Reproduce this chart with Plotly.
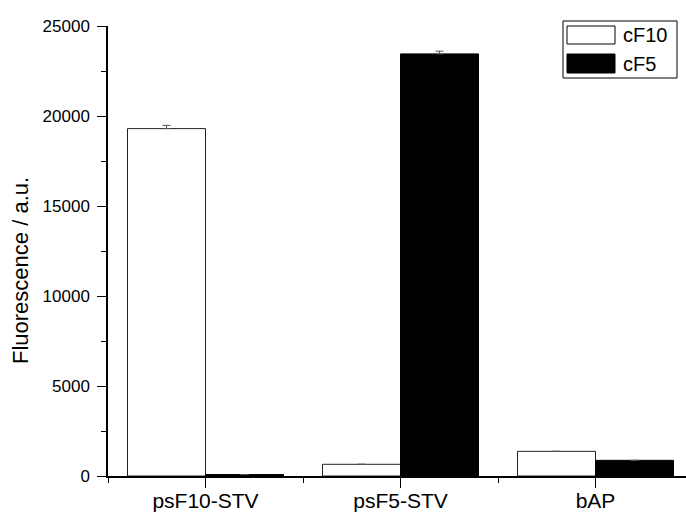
import plotly.graph_objects as go

categories = ["psF10-STV", "psF5-STV", "bAP"]
series_names = ["cF10", "cF5"]
cF10_values = [19300, 650, 1370]
cF5_values = [80, 23450, 870]
cF10_err = [180, None, None]
cF5_err = [None, 150, None]
y_ticks = [0, 5000, 10000, 15000, 20000, 25000]
y_tick_labels = ["0", "5000", "10000", "15000", "20000", "25000"]

FONT = "Liberation Sans, Arial, sans-serif"
xpos = list(range(len(categories)))

fig = go.Figure()
fig.add_trace(go.Bar(
    x=xpos, y=cF10_values, name=series_names[0],
    marker=dict(color="white", line=dict(color="#222", width=1)),
    error_y=dict(type="data", array=cF10_err, arrayminus=[0, 0, 0], symmetric=False,
                 color="#555", thickness=1, width=4),
))
fig.add_trace(go.Bar(
    x=xpos, y=cF5_values, name=series_names[1],
    marker=dict(color="black", line=dict(color="black", width=1)),
    error_y=dict(type="data", array=cF5_err, arrayminus=[0, 0, 0], symmetric=False,
                 color="#555", thickness=1, width=4),
))

L, T, B = 108, 26, 36
W, H = 686, 512
pw, ph = W - L, H - T - B

def px(x):
    return (x - L) / pw

def py(y):
    return (H - B - y) / ph

fig.update_layout(
    width=W, height=H,
    margin=dict(l=L, r=0, t=T, b=B, pad=0),
    plot_bgcolor="white", paper_bgcolor="white",
    barmode="group", bargap=0.2, bargroupgap=0,
    showlegend=False,
    font=dict(family=FONT, color="black", size=17),
)
fig.update_xaxes(
    range=[-0.5, -0.5 + pw / 195.0],
    automargin=False,
    tickmode="array", tickvals=xpos, ticktext=categories,
    ticks="outside", ticklen=10, tickwidth=1.3, tickcolor="black",
    showline=True, linecolor="black", linewidth=1.5,
    showgrid=False, zeroline=False,
    tickfont=dict(size=21, family=FONT),
    ticklabelstandoff=-5,
    minor=dict(tickvals=[-0.5, 0.5, 1.5, 2.5], ticks="outside", ticklen=5,
               tickwidth=1.3, tickcolor="black", showgrid=False),
)
fig.update_yaxes(
    range=[0, 25000],
    automargin=False,
    tickmode="array", tickvals=y_ticks, ticktext=y_tick_labels,
    ticks="outside", ticklen=9, tickwidth=1.3, tickcolor="black",
    showline=True, linecolor="black", linewidth=1.5,
    showgrid=False, zeroline=False,
    tickfont=dict(size=17, family=FONT),
    ticklabelstandoff=4,
    minor=dict(tickvals=[2500, 7500, 12500, 17500, 22500], ticks="outside",
               ticklen=5, tickwidth=1.3, tickcolor="black", showgrid=False),
)

# y-axis title
fig.add_annotation(text="Fluorescence / a.u.", xref="paper", yref="paper",
                   x=px(20), y=py(271), textangle=-90, showarrow=False,
                   font=dict(size=22, family=FONT), xanchor="center", yanchor="middle")

# legend box
fig.add_shape(type="rect", xref="paper", yref="paper",
              x0=px(563), x1=px(677), y0=py(78), y1=py(21),
              line=dict(color="black", width=1), fillcolor="white")
legend_fill = ["white", "black"]
legend_rows = [(26, 44), (54, 73)]
for name, fill, (y0, y1) in zip(series_names, legend_fill, legend_rows):
    fig.add_shape(type="rect", xref="paper", yref="paper",
                  x0=px(567), x1=px(615), y0=py(y1), y1=py(y0),
                  line=dict(color="black", width=1), fillcolor=fill)
    fig.add_annotation(text=name, xref="paper", yref="paper",
                       x=px(621), y=py((y0 + y1) / 2), showarrow=False,
                       xanchor="left", yanchor="middle",
                       font=dict(size=20, family=FONT))

fig.write_html("out.html")
